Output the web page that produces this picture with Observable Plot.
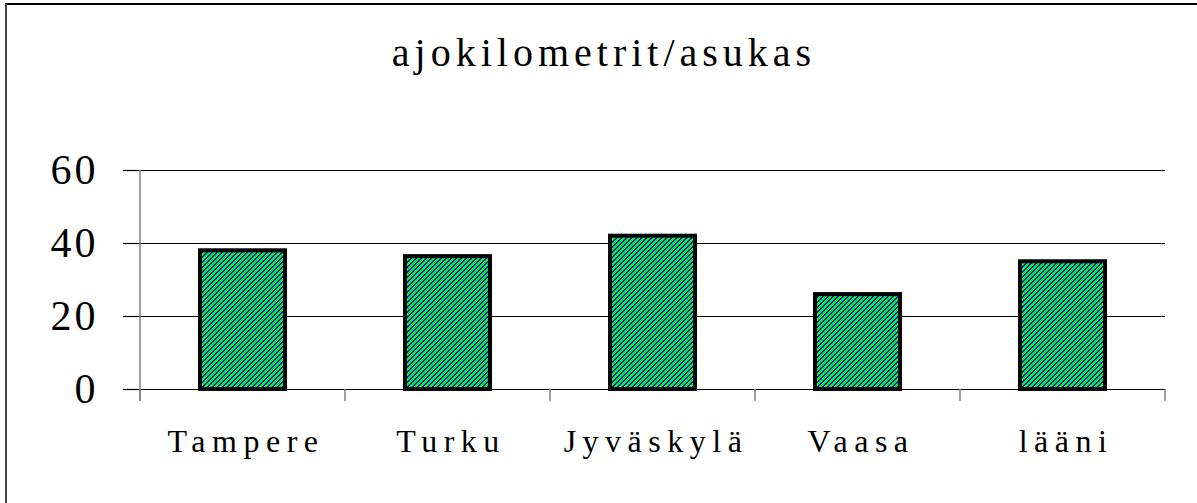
<!DOCTYPE html>
<html><head><meta charset="utf-8">
<script src="https://cdn.jsdelivr.net/npm/d3@7"></script>
<script src="https://cdn.jsdelivr.net/npm/@observablehq/plot@0.6"></script>
<style>
html,body{margin:0;padding:0;background:#fff;}
body{width:1197px;height:503px;overflow:hidden;position:relative;font-family:"Liberation Serif","Times New Roman",Times,serif;}
#frame{position:absolute;left:5px;top:3px;width:1400px;height:700px;border-left:2px solid #444;border-top:2px solid #000;pointer-events:none;}
#title{position:absolute;left:0;top:33px;width:1197px;text-align:center;font-size:40px;line-height:40px;letter-spacing:5px;padding-left:11px;box-sizing:border-box;color:#000;}
#chart{position:absolute;left:0;top:100px;}
svg text{font-family:"Liberation Serif","Times New Roman",Times,serif !important;}
</style>
</head><body>
<svg width="0" height="0" style="position:absolute">
  <defs>
    <pattern id="hatch" patternUnits="userSpaceOnUse" width="5" height="5" shape-rendering="crispEdges">
      <rect width="5" height="5" fill="#00ff00"/>
      <rect x="3" y="0" width="2" height="1" fill="#0000ff"/>
      <rect x="2" y="1" width="2" height="1" fill="#0000ff"/>
      <rect x="1" y="2" width="2" height="1" fill="#0000ff"/>
      <rect x="0" y="3" width="2" height="1" fill="#0000ff"/>
      <rect x="0" y="4" width="1" height="1" fill="#0000ff"/>
      <rect x="4" y="4" width="1" height="1" fill="#0000ff"/>
    </pattern>
  </defs>
</svg>
<div id="frame"></div>
<div id="title"></div>
<div id="chart"></div>
<script>
const title = "ajokilometrit/asukas";
const categories = ["Tampere", "Turku", "Jyväskylä", "Vaasa", "lääni"];
const values = [38, 36.4, 42, 26, 35];
const yTicks = [0, 20, 40, 60];

document.getElementById("title").textContent = title;

const data = categories.map((c, i) => ({category: c, value: values[i]}));

const plot = Plot.plot({
  width: 1197,
  height: 403,
  marginLeft: 140,
  marginRight: 32,
  marginTop: 70,
  marginBottom: 114,
  style: {fontFamily: "'Liberation Serif', 'Times New Roman', Times, serif", background: "transparent", color: "#000", overflow: "visible"},
  x: {domain: categories, paddingInner: 0.585, paddingOuter: 0.2925, label: null},
  y: {domain: [0, 60], label: null},
  marks: [
    Plot.gridY(yTicks, {stroke: "#000", strokeOpacity: 1, strokeWidth: 1.2}),
    Plot.axisY(yTicks, {tickSize: 17, tickPadding: 25, fontSize: 42, stroke: "#000", strokeWidth: 1.2, label: null}),
    Plot.barY(data, {x: "category", y: "value", fill: "url(#hatch)", stroke: "#000", strokeWidth: 4}),
    Plot.axisX({tickSize: 0, tickPadding: 40, fontSize: 32, dx: 3, label: null})
  ]
});

document.getElementById("chart").appendChild(plot);

const svg = d3.select(plot);
svg.selectAll('g[aria-label="y-axis tick label"] text').attr("letter-spacing", 3);
svg.selectAll('g[aria-label="x-axis tick label"] text').attr("letter-spacing", 6.5);

const xs = plot.scale("x"), ys = plot.scale("y");
const bw = xs.bandwidth;
const step = xs.step ?? bw / (1 - 0.585);
const bounds = categories.map(c => xs.apply(c) + bw / 2 - step / 2)
  .concat([xs.apply(categories[categories.length - 1]) + bw / 2 + step / 2]);
const y0 = ys.apply(0), yTop = ys.apply(60);
const g = svg.append("g");
g.selectAll("line.b").data(bounds).join("line")
  .attr("x1", d => d).attr("x2", d => d)
  .attr("y1", y0).attr("y2", y0 + 12)
  .attr("stroke", "#808080").attr("stroke-width", 1.5);
g.append("line")
  .attr("x1", bounds[0]).attr("x2", bounds[0])
  .attr("y1", yTop).attr("y2", y0 + 12)
  .attr("stroke", "#808080").attr("stroke-width", 1.5);
</script>
</body></html>
